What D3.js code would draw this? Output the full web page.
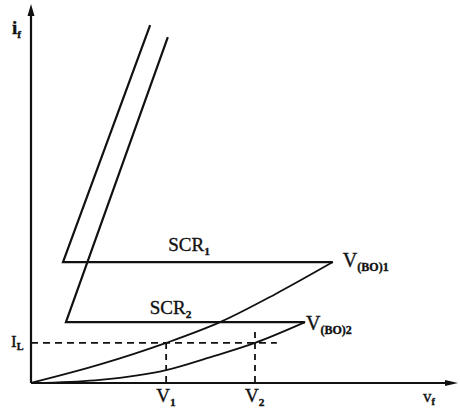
<!DOCTYPE html>
<html><head><meta charset="utf-8">
<script src="https://cdn.jsdelivr.net/npm/d3@7"></script>
<style>body{margin:0;background:#fff}svg{display:block}text{font-family:"Liberation Serif","DejaVu Serif",serif;fill:#111;stroke:#111;stroke-width:0.35}</style>
</head><body><svg id="c" width="460" height="408"></svg>
<script>
// data (abstract units: x = forward voltage, y = forward current)
const scr1Rise = [[28.3,94.7],[7.6,32.0],[71.7,32.0]];
const scr1Curve = [[0,0],[16.4,4.9],[32.1,10.6],[44.9,16.1],[58.0,23.5],[71.7,32.0]];
const scr2Rise = [[32.5,91.5],[8.3,16.1],[65.1,16.1]];
const scr2Curve = [[3.3,0],[16.4,0.8],[32.1,3.4],[42.5,6.8],[53.2,10.6],[65.1,16.1]];
const IL = 10.6;
const V1 = 32.1, V2 = 53.2;
const ILdashEnd = 58.4;
const V2dashTop = 13.5;
const xTickValues = [V1, V2];
const xTickLabels = [["V","1"],["V","2"]];
const yTickLabels = [["I","L"]];
const seriesLabels = [["SCR","1"],["SCR","2"]];
const breakoverLabels = [["V","(BO)1"],["V","(BO)2"]];

const svg = d3.select("#c");
const x = d3.scaleLinear().domain([0,100]).range([31,452]);
const y = d3.scaleLinear().domain([0,100]).range([383,5]);
const ink = "#111";

// axes
svg.append("line").attr("x1",x(0)).attr("x2",x(0)).attr("y1",y(0)).attr("y2",y(100)+6)
  .attr("stroke",ink).attr("stroke-width",2.2);
svg.append("line").attr("x1",x(0)).attr("x2",x(100)).attr("y1",y(0)).attr("y2",y(0))
  .attr("stroke",ink).attr("stroke-width",2.2);
svg.append("path").attr("d",`M${x(0)},${y(100)-1} L${x(0)-3.5},${y(100)+11} L${x(0)+3.5},${y(100)+11}Z`).attr("fill",ink);
svg.append("path").attr("d",`M${x(100)+6},${y(0)} L${x(100)-7},${y(0)-3} L${x(100)-7},${y(0)+3}Z`).attr("fill",ink);

const lin = d3.line().x(d=>x(d[0])).y(d=>y(d[1]));
const crv = d3.line().x(d=>x(d[0])).y(d=>y(d[1])).curve(d3.curveMonotoneX);
[scr1Rise, scr2Rise].forEach(p=>svg.append("path").attr("d",lin(p)).attr("fill","none")
  .attr("stroke",ink).attr("stroke-width",2.2).attr("stroke-linejoin","miter"));
[scr1Curve, scr2Curve].forEach(p=>svg.append("path").attr("d",crv(p)).attr("fill","none")
  .attr("stroke",ink).attr("stroke-width",1.8));

// dashed guides
const dash = "7,5";
svg.append("line").attr("x1",x(0)).attr("x2",x(ILdashEnd)).attr("y1",y(IL)).attr("y2",y(IL))
  .attr("stroke",ink).attr("stroke-width",1.8).attr("stroke-dasharray",dash);
svg.append("line").attr("x1",x(V1)).attr("x2",x(V1)).attr("y1",y(IL)).attr("y2",y(0))
  .attr("stroke",ink).attr("stroke-width",1.8).attr("stroke-dasharray","6,5");
svg.append("line").attr("x1",x(V2)).attr("x2",x(V2)).attr("y1",y(V2dashTop)).attr("y2",y(0))
  .attr("stroke",ink).attr("stroke-width",1.8).attr("stroke-dasharray","6,5");

function sub(t, px, py, parts, size, anchor){
  const tx = t.append("text").attr("x",px).attr("y",py).attr("font-size",size).attr("text-anchor",anchor||"start");
  tx.append("tspan").text(parts[0]);
  tx.append("tspan").attr("font-size",size*0.6).attr("dy",size*0.2).attr("font-weight","bold").text(parts[1]);
  return tx;
}
// x tick labels
xTickValues.forEach((v,i)=>sub(svg, x(v)-10, y(0)+19, xTickLabels[i], 19));
// y tick label
sub(svg, 11, y(IL)+4, yTickLabels[0], 17);
// axis labels
sub(svg, 12, 34, ["i","f"], 19).attr("font-weight","bold");
sub(svg, 423, 402, ["v","f"], 17);
// series labels
sub(svg, x(32.6), y(32.0)-11, seriesLabels[0], 19);
sub(svg, x(28.2), y(16.1)-8, seriesLabels[1], 19);
// breakover labels
sub(svg, x(71.7)+10, y(32.0)+5, breakoverLabels[0], 20);
sub(svg, x(65.1)+1, y(16.1)+8, breakoverLabels[1], 20);
</script></body></html>
